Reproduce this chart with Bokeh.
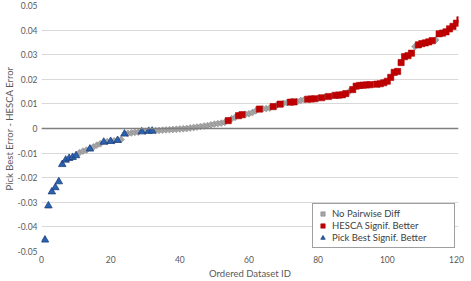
from bokeh.plotting import figure
from bokeh.models import Range1d, FixedTicker, Span, Legend, LegendItem, Label
from bokeh.embed import file_html
from bokeh.resources import INLINE
import math

# ---- data (ordered dataset id -> Pick Best error - HESCA error) ----
values = [
    -0.0453, -0.0314, -0.0257, -0.0240, -0.0216, -0.0146, -0.0128, -0.0121, -0.0117, -0.0110,
    -0.0098, -0.0092, -0.0088, -0.0083, -0.0075, -0.0068, -0.0062, -0.0055, -0.0053, -0.0052,
    -0.0050, -0.0048, -0.0045, -0.0022, -0.0020, -0.0018, -0.0016, -0.0015, -0.0013, -0.0012,
    -0.0011, -0.0010, -0.0009, -0.0008, -0.0007, -0.0006, -0.0005, -0.0004, -0.0003, -0.0002,
    -0.0001, 0.0000, 0.0002, 0.0004, 0.0006, 0.0008, 0.0010, 0.0012, 0.0015, 0.0018,
    0.0020, 0.0022, 0.0025, 0.0032, 0.0040, 0.0045, 0.0052, 0.0056, 0.0058, 0.0060,
    0.0065, 0.0072, 0.0079, 0.0080, 0.0081, 0.0083, 0.0089, 0.0094, 0.0099, 0.0102,
    0.0105, 0.0107, 0.0108, 0.0110, 0.0114, 0.0117, 0.0119, 0.0120, 0.0121, 0.0123,
    0.0125, 0.0128, 0.0130, 0.0133, 0.0135, 0.0136, 0.0137, 0.0142, 0.0150, 0.0158,
    0.0172, 0.0175, 0.0176, 0.0177, 0.0178, 0.0179, 0.0180, 0.0182, 0.0186, 0.0192,
    0.0208, 0.0228, 0.0232, 0.0268, 0.0292, 0.0296, 0.0306, 0.0333, 0.0340, 0.0345,
    0.0348, 0.0352, 0.0357, 0.0360, 0.0385, 0.0388, 0.0393, 0.0405, 0.0415, 0.0428,
    0.0442,
]
# B = Pick Best signif. better, H = HESCA signif. better, N = no pairwise diff
groups = (
    "BBBBBBBBBB" "NNNBNNNBNB"
    "NBNBNNNNBN" "BBNNNNNNNN"
    "NNNNNNNNNN" "NNNHNNHHNN"
    "NNHNNNHNHN" "NHHNNNHHHN"
    "HNHNHHHHNH" "HHHHHNHHHH"
    "HHHHHHHNHH" "HHHNHHHHHH"
    "H"
)
ids = list(range(1, len(values) + 1))

series_names = ["No Pairwise Diff", "HESCA Signif. Better", "Pick Best Signif. Better"]
series_codes = ["N", "H", "B"]
series_counts = ["(57)", "(46)", "(18)"]

y_ticks = [-0.05, -0.04, -0.03, -0.02, -0.01, 0, 0.01, 0.02, 0.03, 0.04, 0.05]
y_tick_labels = ["-0.05", "-0.04", "-0.03", "-0.02", "-0.01", "0", "0.01", "0.02", "0.03", "0.04", "0.05"]
x_ticks = [0, 20, 40, 60, 80, 100, 120]

FONT = "Lato"

p = figure(width=471, height=281, output_backend="svg", toolbar_location=None,
           x_range=Range1d(0, 120.6), y_range=Range1d(-0.05, 0.05),
           min_border_left=40, min_border_right=13, min_border_top=5, min_border_bottom=29)
p.outline_line_color = None
p.background_fill_color = "white"
p.border_fill_color = "white"

p.xaxis.ticker = FixedTicker(ticks=x_ticks)
p.yaxis.ticker = FixedTicker(ticks=y_ticks)
p.yaxis.major_label_overrides = {t: l for t, l in zip(y_ticks, y_tick_labels)}
for ax in (p.xaxis, p.yaxis):
    ax.axis_line_color = None
    ax.major_tick_line_color = None
    ax.minor_tick_line_color = None
    ax.major_tick_out = 0
    ax.major_tick_in = 0
    ax.minor_tick_out = 0
    ax.minor_tick_in = 0
    ax.major_label_text_font = FONT
    ax.major_label_text_font_size = "8.5px"
    ax.major_label_text_color = "#595959"
    ax.axis_label_text_font = FONT
    ax.axis_label_text_font_size = "9.5px"
    ax.axis_label_text_font_style = "normal"
    ax.axis_label_text_color = "#595959"
p.xaxis.axis_label = "Ordered Dataset ID"
p.yaxis.axis_label = "Pick Best Error - HESCA Error"
p.xaxis.major_label_standoff = 4
p.xaxis.axis_label_standoff = 2
p.yaxis.major_label_standoff = 4
p.yaxis.axis_label_standoff = 0

p.xgrid.grid_line_color = None
p.ygrid.grid_line_color = "#D9D9D9"
p.ygrid.grid_line_width = 1

zero = Span(location=0, dimension="width", line_color="#7F7F7F", line_width=1.6)
p.add_layout(zero)

styles = {
    "N": dict(marker="square", angle=math.pi / 4, size=4.8, fill_color="#A5A5A5", line_color="#8C8C8C", line_width=0.6),
    "H": dict(marker="square", angle=0, size=6.2, fill_color="#C00000", line_color="#B00000", line_width=0.6),
    "B": dict(marker="triangle", angle=0, size=7.5, fill_color="#2962B0", line_color="#1F3F7A", line_width=0.8),
}

items = []
for name, code in zip(series_names, series_codes):
    xs = [i for i, g in zip(ids, groups) if g == code]
    ys = [v for v, g in zip(values, groups) if g == code]
    r = p.scatter(xs, ys, **styles[code])
    items.append(LegendItem(label=name, renderers=[r]))

legend = Legend(items=items, location="bottom_right", margin=3,
                padding=4, spacing=1, glyph_width=11, glyph_height=11,
                label_height=11, label_width=118, label_standoff=4,
                label_text_font=FONT, label_text_font_size="9.5px", label_text_color="#404040",
                border_line_color="#404040", border_line_width=1, background_fill_alpha=1)
p.add_layout(legend)

count_y = [-0.0352, -0.0401, -0.0450]
for c, yy in zip(series_counts, count_y):
    p.add_layout(Label(x=116.8, y=yy, text=c, text_align="right", text_baseline="middle",
                       text_font=FONT, text_font_size="9.5px", text_color="#404040",
                       level="overlay"))

open("out.html", "w").write(file_html(p, INLINE))
